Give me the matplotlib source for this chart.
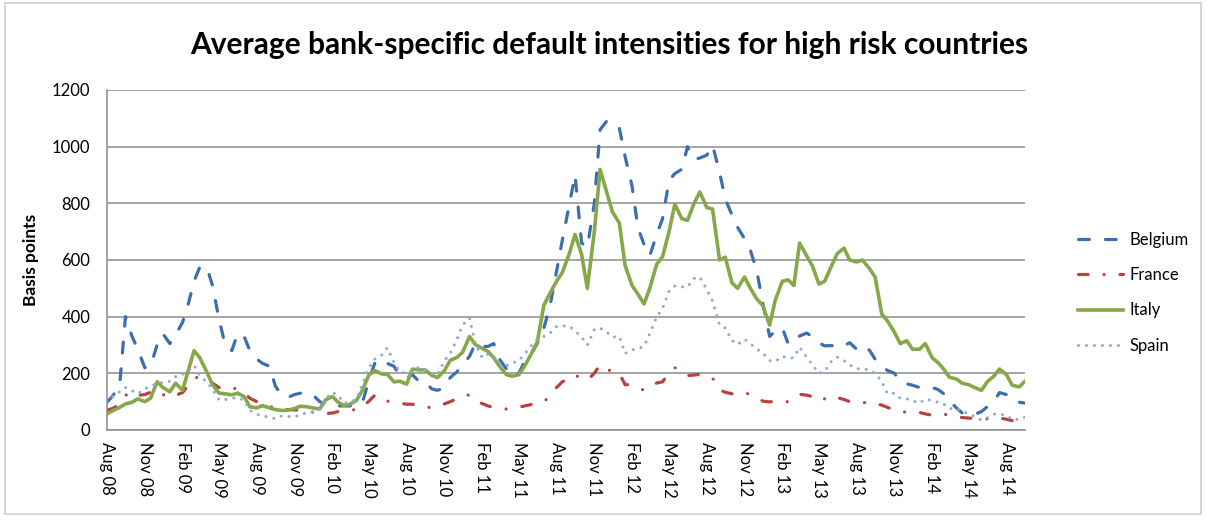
import matplotlib
matplotlib.use("Agg")
import matplotlib.pyplot as plt
import matplotlib.dates as mdates
from matplotlib.patches import Rectangle
import pandas as pd

plt.rcParams['font.family'] = ['Lato', 'DejaVu Sans']

# semi-monthly observations, Aug 2008 - Sep 2014
dates = pd.date_range('2008-08-01', periods=148, freq='SMS')

belgium = [
    98, 120, 160, 400, 330, 285, 220, 225, 300, 340, 305, 335, 380, 445, 525, 575,
    575, 510, 390, 305, 280, 340, 330, 280, 250, 235, 225, 155, 122, 115, 125, 130,
    130, 125, 100, 92, 85, 85, 85, 85, 88, 97, 175, 235, 220, 235, 225, 192,
    185, 195, 170, 170, 145, 140, 150, 185, 205, 230, 260, 305, 295, 295, 305, 250,
    215, 190, 200, 242, 270, 305, 360, 430, 560, 670, 795, 900, 660, 645, 800, 1060,
    1090, 1070, 1065, 965, 860, 715, 655, 615, 690, 745, 880, 905, 920, 1000, 955, 960,
    970, 1005, 910, 815, 760, 715, 675, 635, 560, 450, 330, 350, 360, 305, 308, 332,
    342, 330, 308, 297, 298, 292, 298, 308, 285, 298, 282, 250, 225, 210, 200, 172,
    163, 158, 150, 150, 150, 143, 128, 102, 78, 60, 55, 55, 65, 82, 100, 132,
    125, 105, 98, 95,
]
france = [
    70, 76, 90, 122, 135, 122, 125, 133, 140, 125, 115, 122, 132, 158, 183, 188,
    180, 165, 150, 146, 150, 143, 132, 112, 100, 92, 84, 76, 74, 72, 71, 70,
    67, 63, 60, 58, 60, 65, 69, 70, 72, 80, 102, 122, 120, 102, 98, 95,
    91, 91, 87, 82, 78, 84, 92, 100, 110, 120, 124, 105, 93, 85, 80, 76,
    74, 76, 80, 85, 90, 95, 100, 118, 150, 170, 183, 195, 180, 177, 200, 230,
    215, 206, 200, 160, 160, 150, 140, 155, 166, 170, 200, 220, 206, 192, 194, 197,
    192, 183, 142, 133, 128, 132, 133, 124, 113, 102, 99, 103, 100, 100, 115, 126,
    123, 118, 102, 110, 120, 114, 108, 100, 95, 96, 98, 93, 88, 80, 70, 66,
    62, 62, 62, 57, 52, 54, 56, 52, 47, 44, 42, 41, 40, 39, 40, 42,
    38, 33, 30, 30,
]
italy = [
    57, 68, 80, 92, 98, 110, 100, 112, 170, 150, 135, 165, 140, 210, 280, 255,
    205, 160, 130, 128, 124, 130, 118, 82, 78, 86, 78, 72, 69, 70, 76, 84,
    82, 78, 74, 106, 118, 98, 87, 90, 105, 140, 195, 210, 198, 196, 170, 172,
    162, 215, 212, 212, 193, 185, 210, 246, 256, 274, 330, 302, 288, 277, 255, 225,
    195, 190, 195, 225, 270, 310, 440, 480, 525, 556, 622, 690, 620, 500, 700, 920,
    840, 770, 730, 580, 510, 480, 445, 500, 585, 611, 700, 797, 746, 740, 800, 840,
    785, 780, 600, 610, 520, 500, 540, 500, 462, 440, 370, 460, 525, 530, 510, 660,
    615, 580, 515, 525, 580, 623, 642, 600, 593, 600, 570, 540, 410, 385, 345, 305,
    315, 285, 285, 305, 255, 238, 215, 186, 180, 165, 160, 150, 140, 170, 190, 215,
    195, 158, 152, 172,
]
spain = [
    98, 118, 135, 150, 139, 128, 145, 155, 163, 168, 172, 188, 196, 210, 228, 192,
    168, 145, 106, 107, 112, 114, 105, 70, 55, 51, 44, 40, 50, 48, 46, 55,
    60, 63, 72, 110, 133, 122, 95, 98, 108, 162, 220, 250, 265, 290, 238, 205,
    200, 212, 222, 213, 200, 195, 245, 270, 318, 370, 395, 305, 255, 268, 260, 235,
    227, 236, 245, 268, 298, 320, 330, 340, 365, 368, 366, 350, 328, 300, 355, 360,
    346, 328, 330, 270, 283, 287, 295, 340, 400, 428, 490, 508, 505, 505, 535, 540,
    495, 455, 370, 360, 316, 302, 320, 305, 285, 272, 245, 242, 260, 254, 255, 292,
    257, 230, 200, 207, 243, 257, 245, 230, 216, 216, 212, 200, 172, 128, 130, 112,
    110, 103, 95, 109, 104, 98, 92, 75, 77, 66, 57, 48, 35, 42, 56, 56,
    52, 36, 38, 45,
]

fig = plt.figure(figsize=(12.07, 5.2), dpi=100)
fig.patches.append(Rectangle((0.004, 0.012), 0.991, 0.982, transform=fig.transFigure,
                             fill=False, edgecolor='#d0d0d0', linewidth=1.2))
ax = fig.add_axes([107 / 1207, 1 - 430 / 520, 918 / 1207, 340 / 520])

ax.plot(dates, belgium, color='#3d6eae', lw=2.3, dashes=(3.4, 5.0),
        dash_capstyle='round', label='Belgium')
ax.plot(dates, france, color='#b8423e', lw=2.3, dashes=(3.0, 5.0, 0.01, 5.0),
        dash_capstyle='round', label='France')
ax.plot(dates, italy, color='#86a84a', lw=2.6, solid_joinstyle='round', label='Italy')
ax.plot(dates, spain, color='#8eaad6', lw=2.2, dashes=(0.01, 2.6),
        dash_capstyle='round', label='Spain')

ax.set_ylim(0, 1200)
ax.set_yticks(range(0, 1201, 200))
ax.set_xlim(dates[0], dates[-1])
ax.xaxis.set_major_locator(mdates.MonthLocator(bymonth=[2, 5, 8, 11]))
ax.xaxis.set_major_formatter(mdates.DateFormatter('%b %y'))
ax.tick_params(axis='x', labelrotation=270, length=0, pad=9, labelsize=12)
ax.tick_params(axis='y', length=0, pad=12, labelsize=12)
ax.yaxis.grid(True, color='#8c8c8c', lw=1.1)
ax.set_axisbelow(True)
for s in ['top', 'right']:
    ax.spines[s].set_visible(False)
for s in ['left', 'bottom']:
    ax.spines[s].set_color('#8c8c8c')
    ax.spines[s].set_linewidth(1.1)

ax.set_ylabel('Basis points', fontsize=12.5, fontweight='bold', labelpad=9)
fig.text(0.505, 0.913, 'Average bank-specific default intensities for high risk countries',
         ha='center', va='center', fontsize=21.5, fontweight='bold')

fig.legend(loc='upper left', bbox_to_anchor=(1078 / 1207, 1 - 232 / 520), frameon=False,
           fontsize=12, handlelength=2.7, handletextpad=0.4, labelspacing=1.15,
           borderpad=0, borderaxespad=0)

fig.savefig('out.png', dpi=100)
